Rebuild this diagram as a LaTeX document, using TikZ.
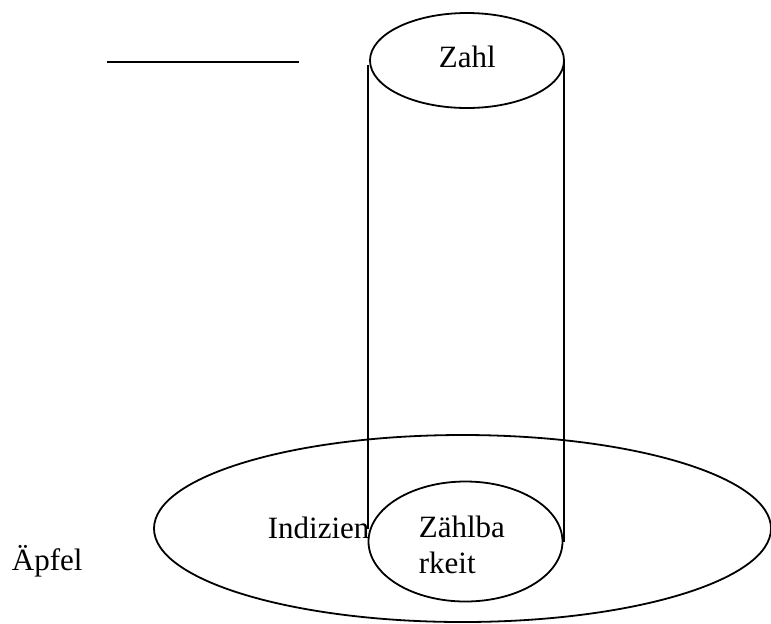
\documentclass[tikz,border=0pt]{standalone}
\usepackage{fontspec}
\setmainfont{Liberation Serif}
\usepackage{tikz}

\begin{document}
\begin{tikzpicture}[x=0.5pt, y=-0.5pt, line width=0.9pt,
		txt/.style={inner sep=0pt, anchor=base west, font=\fontsize{15.5}{18}\selectfont}]
			\useasboundingbox (0,0) rectangle (771,623);
			\draw (467,60.5) ellipse [x radius=48.5pt, y radius=23.75pt];
			\node[txt] (zahl) at (438,67) {Zahl};
			\draw (107,62) -- (299,62);
			\draw (368,65) -- (368,529);
			\draw (564,62) -- (564,542);
			\draw (462.5,528.5) ellipse [x radius=154.25pt, y radius=46.75pt];
			\draw (465.5,541.5) ellipse [x radius=48.5pt, y radius=30pt];
			\node[txt] (indizien) at (267,538) {Indizien};
			\node[txt] (zaehlba) at (418,537) {Zählba};
			\node[txt] (rkeit) at (418,573) {rkeit};
			\node[txt] (aepfel) at (11,570) {Äpfel};
		\end{tikzpicture}
\end{document}
